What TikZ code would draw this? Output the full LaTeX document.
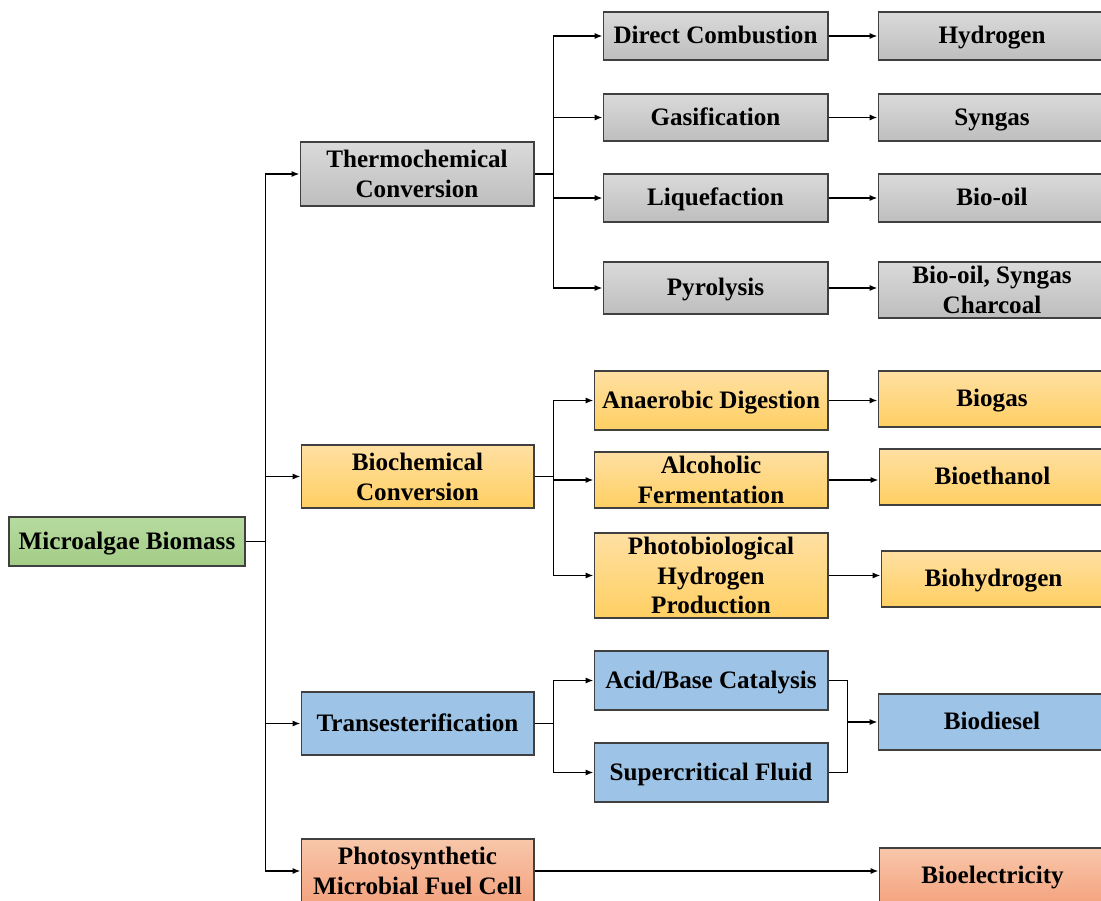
\documentclass[tikz,border=0pt]{standalone}
\usepackage{fontspec}
\setmainfont{Liberation Serif}
\usetikzlibrary{arrows.meta}
\definecolor{grayTop}{HTML}{DADADA}
\definecolor{grayBot}{HTML}{BEBEBE}
\definecolor{goldTop}{HTML}{FFE0A3}
\definecolor{goldBot}{HTML}{FFCF62}
\definecolor{blueFill}{HTML}{9DC3E6}
\definecolor{greenTop}{HTML}{B7DBA0}
\definecolor{greenBot}{HTML}{A3CC86}
\definecolor{redTop}{HTML}{F8C7AA}
\definecolor{redBot}{HTML}{F4A37F}
\tikzset{
    box/.style={draw=black!75, line width=0.6pt, inner sep=0pt,
        font=\bfseries\fontsize{14.3}{17}\selectfont, text height=8.6pt, text depth=0pt},
    multi/.style={align=center, text height=, text depth=},
    graybox/.style={box, top color=grayTop, bottom color=grayBot},
    goldbox/.style={box, top color=goldTop, bottom color=goldBot},
    bluebox/.style={box, fill=blueFill},
    greenbox/.style={box, top color=greenTop, bottom color=greenBot},
    redbox/.style={box, top color=redTop, bottom color=redBot},
    conn/.style={line width=1.1pt, -{Latex[length=4.5pt,width=3.5pt]}},
    wire/.style={line width=1.1pt}
}
\begin{document}
\begin{tikzpicture}[x=0.02cm, y=-0.02cm]
                \useasboundingbox (0,0) rectangle (1101,901);
                \clip (0,0) rectangle (1101,901);
                \node[greenbox, minimum width=4.72cm, minimum height=0.98cm] (bio) at (127,541.5) {Microalgae Biomass};
                \node[graybox, multi, minimum width=4.68cm, minimum height=1.28cm] (thermo) at (417,174) {Thermochemical\\Conversion};
                \node[goldbox, multi, minimum width=4.66cm, minimum height=1.26cm] (biochem) at (417.5,476.5) {Biochemical\\Conversion};
                \node[bluebox, minimum width=4.66cm, minimum height=1.26cm] (trans) at (417.5,723.5) {Transesterification};
                \node[redbox, multi, minimum width=4.66cm, minimum height=1.28cm] (pmfc) at (417.5,871) {Photosynthetic\\Microbial Fuel Cell};
                \node[graybox, minimum width=4.5cm, minimum height=0.96cm] (comb) at (715.5,36) {Direct Combustion};
                \node[graybox, minimum width=4.5cm, minimum height=0.94cm] (gasif) at (715.5,117.5) {Gasification};
                \node[graybox, minimum width=4.5cm, minimum height=0.96cm] (liquef) at (715.5,198) {Liquefaction};
                \node[graybox, minimum width=4.5cm, minimum height=1.04cm] (pyrol) at (715.5,288) {Pyrolysis};
                \node[graybox, minimum width=4.56cm, minimum height=0.96cm] (hydrogen) at (992,36) {Hydrogen};
                \node[graybox, minimum width=4.56cm, minimum height=0.94cm] (syngas) at (992,117.5) {Syngas};
                \node[graybox, minimum width=4.56cm, minimum height=0.96cm] (biooil) at (992,198) {Bio-oil};
                \node[graybox, multi, minimum width=4.56cm, minimum height=1.12cm] (mixed) at (992,290) {Bio-oil, Syngas\\Charcoal};
                \node[goldbox, minimum width=4.68cm, minimum height=1.18cm] (anaer) at (711,400.5) {Anaerobic Digestion};
                \node[goldbox, multi, minimum width=4.68cm, minimum height=1.12cm] (ferment) at (711,480) {Alcoholic\\Fermentation};
                \node[goldbox, multi, minimum width=4.68cm, minimum height=1.70cm] (photobio) at (711,575.5) {Photobiological\\Hydrogen\\Production};
                \node[goldbox, minimum width=4.56cm, minimum height=1.12cm] (biogas) at (992,399) {Biogas};
                \node[goldbox, minimum width=4.54cm, minimum height=1.12cm] (bioeth) at (992.5,477) {Bioethanol};
                \node[goldbox, minimum width=4.5cm, minimum height=1.12cm] (bioh2) at (993.5,579) {Biohydrogen};
                \node[bluebox, minimum width=4.68cm, minimum height=1.18cm] (catal) at (711,680.5) {Acid/Base Catalysis};
                \node[bluebox, minimum width=4.68cm, minimum height=1.18cm] (supcrit) at (711,772.5) {Supercritical Fluid};
                \node[bluebox, minimum width=4.56cm, minimum height=1.12cm] (biodiesel) at (992,722) {Biodiesel};
                \node[redbox, minimum width=4.54cm, minimum height=1.12cm] (bioel) at (992.5,876) {Bioelectricity};
                \draw[wire] (bio.east) -- ++(20,0) coordinate (trunk);
                \draw[conn] (trunk) |- (thermo.west);
                \draw[conn] (trunk) |- (biochem.west);
                \draw[conn] (trunk) |- (trans.west);
                \draw[conn] (trunk) |- (pmfc.west);
                \draw[wire] (thermo.east) -- ++(19,0) coordinate (thermoFork);
                \draw[conn] (thermoFork) |- (comb.west);
                \draw[conn] (thermoFork) |- (gasif.west);
                \draw[conn] (thermoFork) |- (liquef.west);
                \draw[conn] (thermoFork) |- (pyrol.west);
                \draw[conn] (comb.east) -- (comb.east -| hydrogen.west);
                \draw[conn] (gasif.east) -- (gasif.east -| syngas.west);
                \draw[conn] (liquef.east) -- (liquef.east -| biooil.west);
                \draw[conn] (pyrol.east) -- (pyrol.east -| mixed.west);
                \draw[wire] (biochem.east) -- ++(19,0) coordinate (bioFork);
                \draw[conn] (bioFork) |- (anaer.west);
                \draw[conn] (bioFork) |- (ferment.west);
                \draw[conn] (bioFork) |- (photobio.west);
                \draw[conn] (anaer.east) -- (anaer.east -| biogas.west);
                \draw[conn] (ferment.east) -- (ferment.east -| bioeth.west);
                \draw[conn] (photobio.east) -- (photobio.east -| bioh2.west);
                \draw[wire] (trans.east) -- ++(19,0) coordinate (transFork);
                \draw[conn] (transFork) |- (catal.west);
                \draw[conn] (transFork) |- (supcrit.west);
                \draw[wire] (catal.east) -- ++(19,0) coordinate (merge) |- (supcrit.east);
                \draw[conn] (merge |- biodiesel.west) -- (biodiesel.west);
                \draw[conn] (pmfc.east) -- (pmfc.east -| bioel.west);
            \end{tikzpicture}
\end{document}
